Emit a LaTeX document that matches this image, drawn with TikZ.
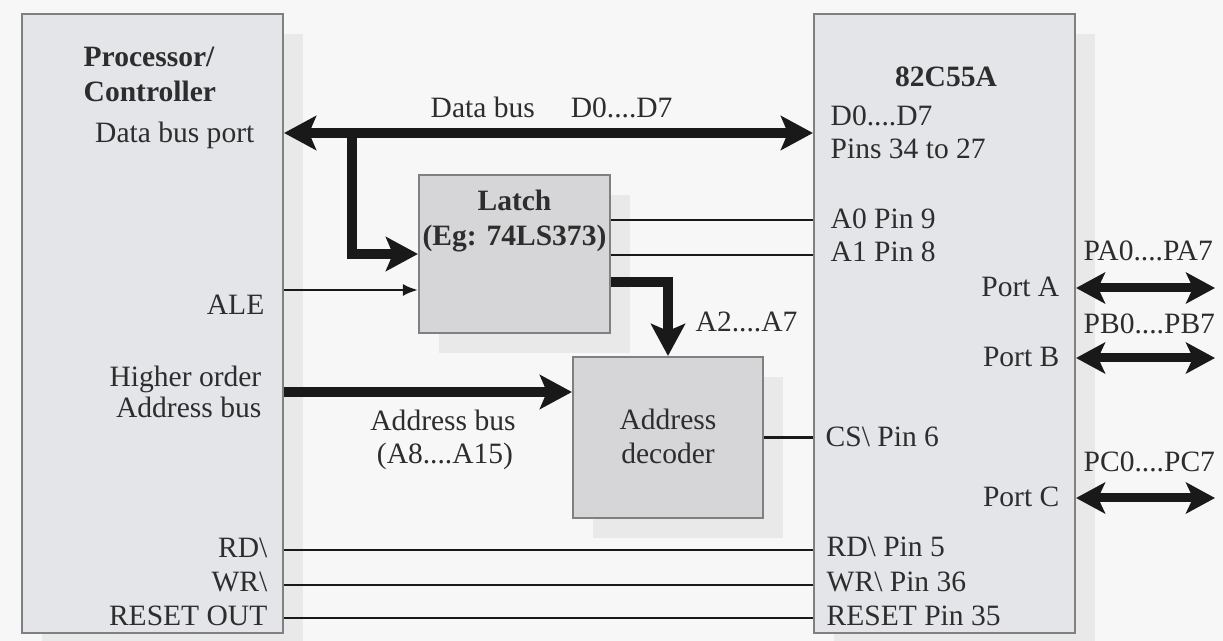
\documentclass[tikz,border=0pt]{standalone}
\usepackage{fontspec}
\setmainfont{Liberation Serif}
\usetikzlibrary{arrows.meta,positioning,calc,shadows}

\definecolor{paper}{RGB}{247,247,247}
\definecolor{ink}{RGB}{45,45,45}
\definecolor{busink}{RGB}{25,25,25}
\definecolor{chipfill}{RGB}{227,229,233}
\definecolor{blockfill}{RGB}{214,214,216}
\definecolor{shade}{RGB}{233,233,233}

\begin{document}
\begin{tikzpicture}[x=0.1mm,y=-0.1mm,>=Stealth,font=\fontsize{8.4}{10}\selectfont]
  \tikzstyle{chip}=[draw=black!50,line width=0.6pt,fill=chipfill,inner sep=0pt,
    drop shadow={shadow xshift=2mm,shadow yshift=-2mm,fill=shade,opacity=1}]
  \tikzstyle{block}=[chip,fill=blockfill]
  \tikzstyle{lbl}=[inner sep=0pt,text=ink]
  \tikzstyle{title}=[lbl,font=\fontsize{8.4}{10}\selectfont\bfseries]
  \tikzstyle{bus}=[draw=busink,line width=1mm,
    {Stealth[length=3.2mm,width=3.4mm,inset=0.7mm]}-{Stealth[length=3.2mm,width=3.4mm,inset=0.7mm]}]
  \tikzstyle{busto}=[draw=busink,line width=1mm,-{Stealth[length=3.2mm,width=3.4mm,inset=0.7mm]}]
  \tikzstyle{portbus}=[draw=busink,line width=0.9mm,
    {Stealth[length=2.9mm,width=3.1mm,inset=0.7mm]}-{Stealth[length=2.9mm,width=3.1mm,inset=0.7mm]}]
  \tikzstyle{sig}=[draw=busink,line width=0.7pt]

  \fill[paper] (0,0) rectangle (1223,641);
  \useasboundingbox (0,0) rectangle (1223,641);

  % blocks
  \node[chip,minimum width=26.1mm,minimum height=61.9mm] (proc) at (152.5,323.5) {};
  \node[chip,minimum width=26.1mm,minimum height=61.9mm] (ppi) at (944.5,323.5) {};
  \node[block,minimum width=19.1mm,minimum height=15.8mm] (latch) at (514.5,254) {};
  \node[block,minimum width=19mm,minimum height=16.1mm] (dec) at (668,437.5) {};

  % processor side
  \node[title,anchor=base west] (proct) at (83,67) {Processor/};
  \node[title,anchor=base west] (procc) at (83,102) {Controller};
  \node[lbl,anchor=base east] (dbport) at (255,143) {Data bus port};
  \node[lbl,anchor=base east] (ale) at (265,315) {ALE};
  \node[lbl,anchor=base east] (hiord) at (262,387) {Higher order};
  \node[lbl,anchor=base east] (hibus) at (262,418) {Address bus};
  \node[lbl,anchor=base east] (rdl) at (268,558) {RD\textbackslash};
  \node[lbl,anchor=base east] (wrl) at (268,592) {WR\textbackslash};
  \node[lbl,anchor=base east] (rstl) at (268,625) {RESET OUT};

  % 82C55A side
  \node[title,anchor=base] (ppit) at (946,87) {82C55A};
  \node[lbl,anchor=base west] (dpins) at (830,126) {D0....D7};
  \node[lbl,anchor=base west] (dnums) at (830,159) {Pins 34 to 27};
  \node[lbl,anchor=base west] (a0l) at (830,229) {A0 Pin 9};
  \node[lbl,anchor=base west] (a1l) at (830,262) {A1 Pin 8};
  \node[lbl,anchor=base east] (porta) at (1060,297) {Port A};
  \node[lbl,anchor=base east] (portb) at (1060,367) {Port B};
  \node[lbl,anchor=base west] (csl) at (825,447) {CS\textbackslash{} Pin 6};
  \node[lbl,anchor=base east] (portc) at (1060,507) {Port C};
  \node[lbl,anchor=base west] (rdr) at (826,557) {RD\textbackslash{} Pin 5};
  \node[lbl,anchor=base west] (wrr) at (826,592) {WR\textbackslash{} Pin 36};
  \node[lbl,anchor=base west] (rstr) at (826,625) {RESET Pin 35};
  \node[lbl,anchor=base west] (pal) at (1083,261) {PA0....PA7};
  \node[lbl,anchor=base west] (pbl) at (1083,334) {PB0....PB7};
  \node[lbl,anchor=base west] (pcl) at (1083,472) {PC0....PC7};

  % middle
  \node[lbl,anchor=base west] (dbus) at (430,118) {Data bus\hspace{3.6mm}D0....D7};
  \node[title,anchor=base] (latcht) at (latch.center |- 0,211) {Latch};
  \node[title,anchor=base] (latche) at (latch.center |- 0,246) {(Eg: 74LS373)};
  \node[lbl,anchor=base] (dect) at (dec.center |- 0,430) {Address};
  \node[lbl,anchor=base] (decd) at (dec.center |- 0,464) {decoder};
  \node[lbl,anchor=base west] (a27) at (695,332) {A2....A7};
  \node[lbl,anchor=base] (abus) at (443,431) {Address bus};
  \node[lbl,anchor=base] (abits) at (445,464) {(A8....A15)};

  % buses
  \coordinate (tap) at (352,133);
  \draw[bus] (proc.east |- 0,133) -- (ppi.west |- 0,133);
  \draw[busto] (tap) |- (latch.west);
  \draw[busto] (latch.east |- 0,282) -| (dec.north);
  \draw[busto] (proc.east |- 0,392) -- (dec.west |- 0,392);

  % signal lines
  \draw[sig,-{Latex[length=1.5mm,width=1.2mm]}] (proc.east |- 0,290) -- (latch.west |- 0,290);
  \draw[sig] (latch.east |- 0,220) -- (ppi.west |- 0,220);
  \draw[sig] (latch.east |- 0,255) -- (ppi.west |- 0,255);
  \draw[sig] (dec.east) -- (ppi.west |- dec.east);
  \draw[sig] (proc.east |- 0,550) -- (ppi.west |- 0,550);
  \draw[sig] (proc.east |- 0,585) -- (ppi.west |- 0,585);
  \draw[sig] (proc.east |- 0,618) -- (ppi.west |- 0,618);

  % ports
  \coordinate (pa) at (1215,288);
  \coordinate (pb) at (1215,358);
  \coordinate (pc) at (1215,498);
  \draw[portbus] (ppi.east |- pa) -- (pa);
  \draw[portbus] (ppi.east |- pb) -- (pb);
  \draw[portbus] (ppi.east |- pc) -- (pc);
\end{tikzpicture}
\end{document}
